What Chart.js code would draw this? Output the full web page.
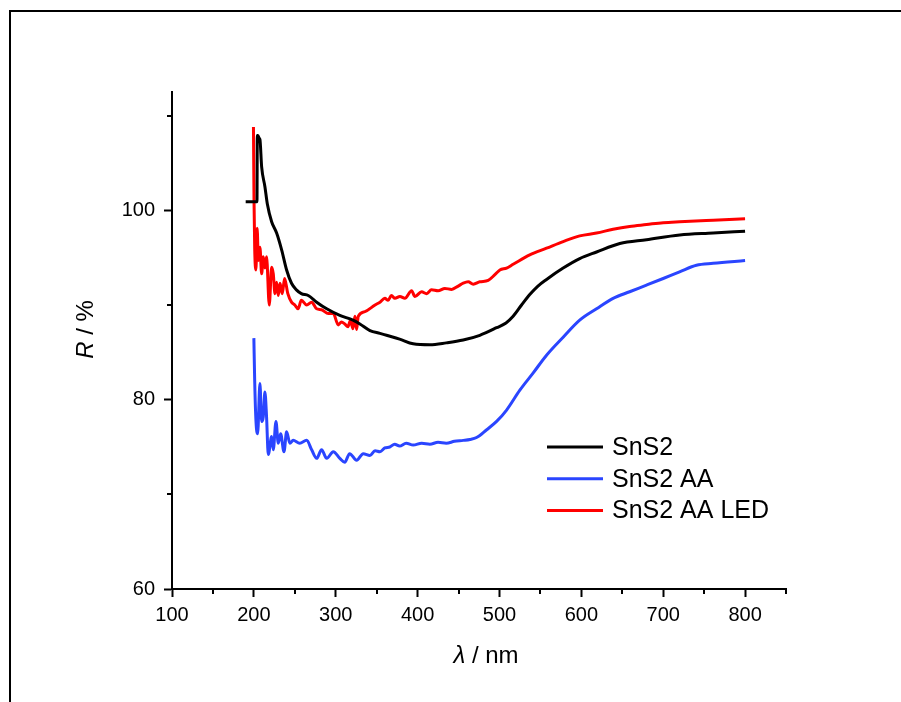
<!DOCTYPE html>
<html><head><meta charset="utf-8">
<script src="https://cdn.jsdelivr.net/npm/chart.js@4.4.1/dist/chart.umd.min.js"></script>
<style>
html,body{margin:0;padding:0;background:#fff;overflow:hidden;width:901px;height:702px}
#frame{position:absolute;left:9px;top:10px;width:1000px;height:1000px;border-top:2px solid #000;border-left:2px solid #000}
#c{position:absolute;left:0;top:0}
</style></head><body>
<div id="frame"></div>
<canvas id="c" width="901" height="702"></canvas>
<script>
// ---- data (wavelength nm, reflectance %) ----
const seriesNames = ['SnS2', 'SnS2 AA', 'SnS2 AA LED'];
const seriesColors = ['#000000', '#2a45ff', '#ff0000'];
const xTickLabels = [100, 200, 300, 400, 500, 600, 700, 800];
const yTickLabels = [60, 80, 100];

const sns2 = [[190,100.9],[203.8,100.9],[204.2,107.9],[205,107.9],[206.5,107.6],[207.4,107.5],[209.5,104.6],[213.5,102.5],[216.4,100.7],[221.7,98.8],[227.8,97.6],[234,95.8],[240,93.7],[246,92.3],[252,91.6],[258,91.2],[266.4,91.0],[276.7,90.3],[289,89.6],[305,88.9],[321,88.4],[329.5,88.0],[341.8,87.3],[354,87.0],[362,86.8],[378,86.4],[394.6,85.9],[415,85.8],[435,86.0],[455.7,86.3],[476,86.8],[496.5,87.6],[508,88.1],[516.7,88.8],[527,90.0],[537,91.1],[547,92.0],[557.5,92.7],[577.8,93.9],[598,94.9],[618.6,95.6],[647,96.5],[679.6,96.9],[720.3,97.4],[761,97.6],[800,97.8]];

const sns2AA = [[200,86.5],[201,82],[202.6,77.7],[204.6,76.4],[207.4,81.7],[209.5,77.7],[211.5,78.2],[213.5,80.8],[215.5,78.2],[217.6,74.2],[221.7,76.1],[223.7,74.7],[227,77.7],[229.8,75.4],[232.7,76.4],[236.8,74.5],[240,76.6],[244,75.4],[248,75.7],[256,75.4],[264.5,75.7],[270.6,74.7],[276.7,73.8],[282.7,74.7],[289,73.8],[297,74.5],[305,73.8],[311,73.4],[317,74.3],[325.5,73.6],[333.6,74.3],[341.8,74.1],[348,74.6],[354,74.5],[360,74.9],[366,75.0],[372,75.3],[378,75.1],[386,75.4],[394.6,75.2],[405,75.4],[415,75.3],[425,75.5],[435,75.4],[445,75.6],[455.7,75.7],[464,75.8],[472,76.0],[484,76.8],[496.5,77.7],[508.7,78.9],[524.9,81.0],[541,82.8],[557.5,84.7],[577.8,86.6],[598,88.4],[618.6,89.6],[638.8,90.7],[659,91.4],[679.6,92.1],[700,92.8],[720,93.5],[740.6,94.2],[761,94.4],[800,94.7]];

const sns2AALED = [[199.5,108.8],[200.2,101],[201,96],[202.5,93.7],[204,98.1],[205.5,94.7],[207.4,96.1],[209.5,93.3],[211.5,95.1],[213.5,93.9],[215.5,95.1],[218.8,90.0],[221.7,94.0],[223.7,93.3],[225.8,91.2],[227.8,92.4],[229.8,91.0],[231.9,92.3],[234.7,91.2],[237.5,92.8],[241.5,91.2],[246,90.3],[250,90.0],[254,89.6],[258,90.5],[264.5,90.0],[270.5,90.3],[276.7,89.6],[282.7,89.5],[291,89.1],[297,89.1],[303,87.9],[307,88.2],[311,88.0],[315,87.7],[318,88.4],[321,87.5],[323.5,88.8],[325.5,87.4],[327.5,88.8],[335.7,89.3],[348,90.0],[354,90.3],[360,90.7],[364,90.5],[368,91.0],[372.3,90.7],[378.4,90.9],[384.5,90.7],[392.7,91.5],[396.7,90.9],[404.9,91.4],[411,91.2],[417,91.6],[425,91.5],[433.3,91.75],[441.5,91.65],[449.6,92.0],[455.7,92.3],[461.8,92.45],[468,92.2],[476,92.45],[486.2,92.6],[494.4,93.2],[500.5,93.7],[508.7,93.9],[516.7,94.3],[537,95.3],[557.5,96.0],[577.8,96.7],[598,97.3],[618.6,97.6],[638.8,98.0],[659,98.3],[679.6,98.5],[700,98.7],[720,98.8],[761,98.96],[800,99.1]];

const seriesData = [sns2, sns2AA, sns2AALED];

const FONT = "'Liberation Sans', Arial, sans-serif";
const toPts = arr => arr.map(p => ({x: p[0], y: p[1]}));

const extras = {
  id: 'extras',
  afterDraw(chart) {
    const ctx = chart.ctx, xs = chart.scales.x, ys = chart.scales.y, ca = chart.chartArea;
    ctx.save();
    // minor ticks
    ctx.strokeStyle = '#000'; ctx.lineWidth = 2; ctx.lineCap = 'butt';
    xs.ticks.forEach(t => {
      if (xTickLabels.indexOf(t.value) < 0) {
        const px = Math.round(xs.getPixelForValue(t.value));
        ctx.beginPath(); ctx.moveTo(px, ca.bottom); ctx.lineTo(px, ca.bottom + 5); ctx.stroke();
      }
    });
    ys.ticks.forEach(t => {
      if (yTickLabels.indexOf(t.value) < 0) {
        const py = Math.round(ys.getPixelForValue(t.value));
        ctx.beginPath(); ctx.moveTo(ca.left, py); ctx.lineTo(ca.left - 5, py); ctx.stroke();
      }
    });
    // x title
    ctx.fillStyle = '#000';
    ctx.textBaseline = 'alphabetic';
    const fI = 'italic 24px ' + FONT, fN = '24px ' + FONT;
    ctx.font = fI; const wL = ctx.measureText('λ').width;
    ctx.font = fN; const wR = ctx.measureText(' / nm').width;
    let cx = (ca.left + ca.right) / 2 + 7 - (wL + wR) / 2, by = ca.bottom + 74;
    ctx.font = fI; ctx.textAlign = 'left'; ctx.fillText('λ', cx, by);
    ctx.font = fN; ctx.fillText(' / nm', cx + wL, by);
    // y title
    ctx.font = fI; const wR2 = ctx.measureText('R').width;
    ctx.font = fN; const wP = ctx.measureText(' / %').width;
    ctx.translate(ca.left - 79, (ca.top + ca.bottom) / 2 - 11);
    ctx.rotate(-Math.PI / 2);
    let sx = -(wR2 + wP) / 2;
    ctx.font = fI; ctx.fillText('R', sx, 0);
    ctx.font = fN; ctx.fillText(' / %', sx + wR2, 0);
    ctx.setTransform(1, 0, 0, 1, 0, 0);
    // legend
    ctx.font = '25px ' + FONT; ctx.textBaseline = 'middle';
    chart.data.datasets.forEach((d, i) => {
      const ly = ca.top + 355 + i * 31.7;
      const lx = ca.left + 375;
      ctx.strokeStyle = d.borderColor; ctx.lineWidth = 3;
      ctx.beginPath(); ctx.moveTo(lx, ly); ctx.lineTo(lx + 56, ly); ctx.stroke();
      ctx.fillStyle = '#000'; ctx.fillText(d.label, lx + 65, ly + 1);
    });
    ctx.restore();
  }
};

new Chart(document.getElementById('c'), {
  type: 'line',
  data: {
    datasets: seriesData.map((s, i) => ({
      label: seriesNames[i], data: toPts(s), borderColor: seriesColors[i],
      backgroundColor: seriesColors[i], borderWidth: 3, pointRadius: 0,
      cubicInterpolationMode: 'monotone', fill: false, borderJoinStyle: 'round'
    }))
  },
  options: {
    responsive: false, animation: false,
    layout: {padding: {left: 0, right: 115, top: 92, bottom: 0}},
    plugins: {legend: {display: false}, tooltip: {enabled: false}},
    scales: {
      x: {
        type: 'linear', min: 100, max: 850,
        ticks: {stepSize: 50, includeBounds: false, autoSkip: false, maxRotation: 0,
          callback: v => xTickLabels.indexOf(v) >= 0 ? String(v) : '',
          color: '#000', font: {family: FONT, size: 20}, padding: 6},
        grid: {display: true, drawOnChartArea: false, drawTicks: true, tickLength: 8, tickWidth: 2,
          tickColor: c => (c.tick && xTickLabels.indexOf(c.tick.value) >= 0) ? '#000' : 'rgba(0,0,0,0)'},
        border: {display: true, color: '#000', width: 2},
        afterFit: s => { s.height = 113; }
      },
      y: {
        type: 'linear', min: 60, max: 112.5,
        ticks: {stepSize: 10, includeBounds: false, autoSkip: false,
          callback: v => yTickLabels.indexOf(v) >= 0 ? String(v) : '',
          color: '#000', font: {family: FONT, size: 20}, padding: 9},
        grid: {display: true, drawOnChartArea: false, drawTicks: true, tickLength: 8, tickWidth: 2,
          tickColor: c => (c.tick && yTickLabels.indexOf(c.tick.value) >= 0) ? '#000' : 'rgba(0,0,0,0)'},
        border: {display: true, color: '#000', width: 2},
        afterFit: s => { s.width = 172; }
      }
    }
  },
  plugins: [extras]
});
</script>
</body></html>
